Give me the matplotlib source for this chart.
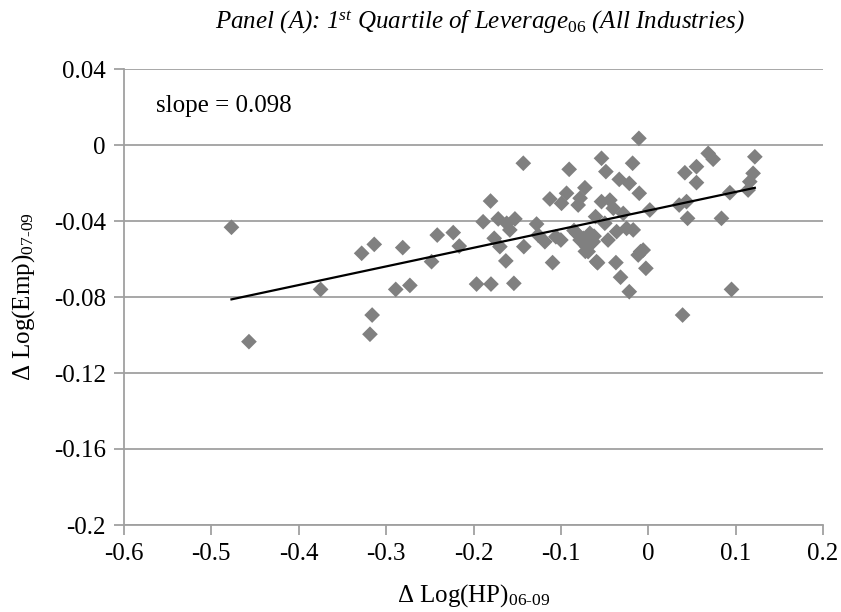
import matplotlib
matplotlib.use("Agg")
import matplotlib.pyplot as plt
import numpy as np

# Data
hp_change = [-0.477, -0.457, -0.375, -0.328, -0.3136, -0.316, -0.3185, -0.281, -0.289, -0.2728,
             -0.248, -0.2415, -0.2232, -0.2163, -0.1965, -0.180, -0.1538, -0.1805, -0.189, -0.1717,
             -0.162, -0.1526, -0.1584, -0.1763, -0.1698, -0.163, -0.143, -0.1424, -0.1278, -0.126,
             -0.1183, -0.1057, -0.1095, -0.1126, -0.0993, -0.0935, -0.0905, -0.0802, -0.0725, -0.078,
             -0.082, -0.0745, -0.0706, -0.0668, -0.063, -0.0688, -0.0603, -0.0592, -0.0535, -0.0485,
             -0.0535, -0.0439, -0.040, -0.0497, -0.0362, -0.0286, -0.0332, -0.0217, -0.0179, -0.0103,
             -0.0107, -0.0248, -0.0172, -0.037, -0.0317, -0.0217, -0.0088, -0.0115, -0.0027, 0.0018,
             -0.0058, 0.0419, 0.0552, 0.0552, 0.0686, 0.0743, 0.0354, 0.0438, 0.045, 0.0838,
             0.0934, 0.1143, 0.1162, 0.120, 0.122, 0.0953, 0.0393, -0.058, -0.078, -0.066,
             -0.072, -0.085, -0.1, -0.046, -0.062]
emp_change = [-0.0433, -0.1035, -0.0760, -0.057, -0.0523, -0.0895, -0.0996, -0.054, -0.076, -0.0739,
              -0.0614, -0.0474, -0.0461, -0.0532, -0.0732, -0.0732, -0.0728, -0.0295, -0.0404, -0.0389,
              -0.0412, -0.0389, -0.0447, -0.0491, -0.0535, -0.061, -0.0096, -0.0535, -0.0416, -0.0474,
              -0.0509, -0.0483, -0.0619, -0.0284, -0.0307, -0.0254, -0.0128, -0.0316, -0.0225, -0.028,
              -0.0465, -0.0491, -0.0535, -0.0465, -0.0509, -0.0561, -0.0377, -0.0614, -0.007, -0.014,
              -0.0298, -0.029, -0.0333, -0.0412, -0.0456, -0.036, -0.0181, -0.0202, -0.0096, -0.0254,
              0.0035, -0.0439, -0.0447, -0.0619, -0.0696, -0.0772, -0.0561, -0.0579, -0.0649, -0.0342,
              -0.0553, -0.0146, -0.0114, -0.0198, -0.0044, -0.0075, -0.0316, -0.0298, -0.0386, -0.0386,
              -0.0251, -0.0237, -0.0193, -0.0149, -0.0062, -0.0760, -0.0895, -0.062, -0.050, -0.052,
              -0.056, -0.045, -0.050, -0.050, -0.048]
slope = 0.098
intercept = -0.0345

x_ticks = [-0.6, -0.5, -0.4, -0.3, -0.2, -0.1, 0, 0.1, 0.2]
x_labels = ["-0.6", "-0.5", "-0.4", "-0.3", "-0.2", "-0.1", "0", "0.1", "0.2"]
y_ticks = [0.04, 0, -0.04, -0.08, -0.12, -0.16, -0.2]
y_labels = ["0.04", "0", "-0.04", "-0.08", "-0.12", "-0.16", "-0.2"]

plt.rcParams['font.family'] = ['Liberation Serif', 'DejaVu Serif']
plt.rcParams['mathtext.fontset'] = 'custom'
plt.rcParams['mathtext.rm'] = 'Liberation Serif'
plt.rcParams['mathtext.it'] = 'Liberation Serif:italic'
plt.rcParams['mathtext.bf'] = 'Liberation Serif:bold'

fig = plt.figure(figsize=(8.41, 6.12), dpi=100)
ax = fig.add_axes([124/841, 1-525/612, (823-124)/841, (525-69)/612])

ax.set_xlim(-0.6, 0.2)
ax.set_ylim(-0.2, 0.04)
ax.set_xticks(x_ticks)
ax.set_xticklabels(x_labels)
ax.set_yticks(y_ticks)
ax.set_yticklabels(y_labels)

grid_c = '#a0a0a0'
ax.yaxis.grid(True, color=grid_c, linewidth=1.3)
ax.set_axisbelow(True)
for s in ['top', 'right']:
    ax.spines[s].set_visible(False)
for s in ['left', 'bottom']:
    ax.spines[s].set_color(grid_c)
    ax.spines[s].set_linewidth(1.3)
ax.tick_params(axis='both', colors=grid_c, labelcolor='black', labelsize=18,
               direction='out', length=7, width=1.3, pad=6)

ax.scatter(hp_change, emp_change, marker='D', s=64, color='#808080', edgecolors='none', zorder=3)

xl = np.array([min(hp_change), max(hp_change)])
ax.plot(xl, intercept + slope * xl, color='black', linewidth=1.6, zorder=4)

ax.text(0.046, 0.919, "slope = 0.098", transform=ax.transAxes, fontsize=18, va='center', ha='left')

ax.set_xlabel(r"$\Delta$ Log(HP)$_{\mathrm{06\text{-}09}}$", fontsize=18, labelpad=12)
ax.set_ylabel(r"$\Delta$ Log(Emp)$_{\mathrm{07\text{-}09}}$", fontsize=18, labelpad=12)

fig.text(480/841, 1-22/612, r"Panel (A): 1$^{\mathit{st}}$ Quartile of Leverage$_{\mathit{06}}$ (All Industries)",
         fontsize=18, style='italic', ha='center', va='center')

fig.savefig("out.png", dpi=100)
